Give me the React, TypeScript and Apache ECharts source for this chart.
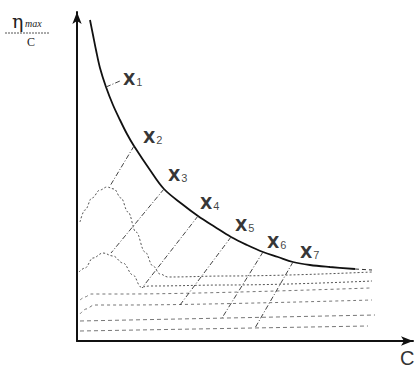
import React, { useEffect, useRef } from "react";
import * as echarts from "echarts";

// Envelope curve (eta_max / C versus C), axis units
const envelopeC = [1.3, 1.6, 1.9, 2.3, 2.9, 3.6, 4.3, 5.0, 5.7, 7.3, 8.7, 10.5, 12.1, 13.8, 15.4, 17.0, 18.6, 20.1, 21.6, 23.3, 25.3, 27.8];
const envelopeY = [32.1, 30.6, 29.1, 27.3, 25.4, 23.6, 22.1, 20.7, 19.5, 17.1, 15.2, 13.7, 12.5, 11.4, 10.4, 9.6, 8.9, 8.4, 7.9, 7.6, 7.4, 7.2];
const tailC = [27.8, 29.5];
const tailY = [7.2, 7.1];

// Marked points X1..X7 on the envelope
const pointNames = ["1", "2", "3", "4", "5", "6", "7"];
const pointC = [2.9, 5.7, 8.7, 12.1, 15.4, 18.6, 21.6];
const pointY = [25.4, 19.5, 15.2, 12.5, 10.4, 8.9, 7.9];
// Other end of the dashed line from each point
const dropC = [4.3, 3.3, 3.4, 6.5, 10.3, 14.5, 17.8];
const dropY = [26.0, 15.5, 8.8, 5.3, 3.6, 2.3, 1.3];

// Lower curves
const curveAC = [0.3, 0.8, 1.5, 2.3, 3.0, 3.7, 4.4, 5.1, 5.9, 6.8, 7.6, 8.3, 9.1, 15.0, 29.5];
const curveAY = [11.9, 13.1, 14.3, 15.1, 15.4, 15.2, 14.3, 12.9, 10.9, 8.9, 7.5, 6.7, 6.4, 6.5, 6.9];
const curveBC = [0.2, 0.8, 1.6, 2.6, 3.6, 4.6, 5.6, 6.4, 7.3, 15.0, 29.5];
const curveBY = [6.9, 7.3, 8.3, 8.8, 8.5, 7.8, 6.6, 5.4, 5.5, 5.6, 6.0];
const curve3C = [0.3, 0.8, 1.4, 5.0, 29.3];
const curve3Y = [4.1, 4.4, 4.7, 4.7, 5.3];
const curve4C = [0.3, 0.9, 1.7, 5.0, 29.5];
const curve4Y = [2.7, 3.2, 3.6, 3.6, 4.1];
const curve5C = [0.3, 29.8];
const curve5Y = [2.0, 2.6];
const curve6C = [0.3, 29.1];
const curve6Y = [1.0, 1.5];

const labelDx = [17, 9, 4, 2, 4, 4, 7];
const labelDy = [-8, -9, -14, -13, -12, -10, -10];

const zip = (xs: number[], ys: number[]) => xs.map((x, i) => [x, ys[i]]);

export default function App() {
  const ref = useRef<HTMLDivElement>(null);
  useEffect(() => {
    if (!ref.current) return;
    const chart = echarts.init(ref.current, undefined, { renderer: "svg" });
    const dotted = (data: number[][], smooth: number, color: string, dash: number[]) => ({
      type: "line",
      data,
      smooth,
      smoothMonotone: "x",
      symbol: "none",
      silent: true,
      lineStyle: { color, width: 1, type: dash },
    });
    const series: any[] = [
      {
        type: "line",
        data: zip(envelopeC, envelopeY),
        smooth: 0.35,
        symbol: "none",
        lineStyle: { color: "#111", width: 1.8 },
      },
      dotted(zip(tailC, tailY), 0, "#333", [4, 3]),
      dotted(zip(curveAC, curveAY), 0.4, "#555", [2, 2]),
      dotted(zip(curveBC, curveBY), 0.4, "#555", [2, 2]),
      dotted(zip(curve3C, curve3Y), 0.3, "#777", [3, 3]),
      dotted(zip(curve4C, curve4Y), 0.3, "#777", [3, 3]),
      dotted(zip(curve5C, curve5Y), 0, "#777", [4, 3]),
      dotted(zip(curve6C, curve6Y), 0, "#777", [4, 3]),
    ];
    pointC.forEach((c, i) => {
      series.push({
        type: "line",
        data: [[c, pointY[i]], [dropC[i], dropY[i]]],
        symbol: "none",
        silent: true,
        lineStyle: { color: "#444", width: 1, type: [5, 2, 1, 2] },
      });
    });
    series.push({
      type: "scatter",
      symbolSize: 0,
      data: pointNames.map((n, i) => ({
        value: [pointC[i], pointY[i]],
        label: {
          show: true,
          position: [labelDx[i], labelDy[i]],
          align: "left",
          verticalAlign: "middle",
          formatter: `{x|X}{s|${n}}`,
        },
      })),
      label: {
        rich: {
          x: { fontSize: 16, fontWeight: "bold", fontFamily: "DejaVu Sans", color: "#000" },
          s: { fontSize: 11, fontFamily: "Liberation Sans", color: "#111", padding: [5, 0, 0, 1] },
        },
      },
    });

    chart.setOption({
      animation: false,
      backgroundColor: "#fff",
      grid: { left: 77, top: 12, right: 4, bottom: 27 },
      xAxis: {
        type: "value",
        min: 0,
        max: 33.6,
        axisLine: { show: true, lineStyle: { color: "#111", width: 2 }, symbol: ["none", "arrow"], symbolSize: [7, 12] },
        axisTick: { show: false },
        axisLabel: { show: false },
        splitLine: { show: false },
      },
      yAxis: {
        type: "value",
        min: 0,
        max: 32.9,
        axisLine: { show: true, lineStyle: { color: "#111", width: 2 }, symbol: ["none", "arrow"], symbolSize: [7, 12] },
        axisTick: { show: false },
        axisLabel: { show: false },
        splitLine: { show: false },
      },
      graphic: [
        { type: "text", left: 12, top: 11, style: { text: "η", fontSize: 19, fontFamily: "DejaVu Serif", fill: "#222" } },
        { type: "text", left: 25, top: 18, style: { text: "max", fontSize: 10, fontStyle: "italic", fontFamily: "Liberation Serif", fill: "#222" } },
        { type: "line", shape: { x1: 5, y1: 33, x2: 50, y2: 33 }, style: { stroke: "#555", lineWidth: 1, lineDash: [2, 1] } },
        { type: "text", left: 27, top: 36, style: { text: "C", fontSize: 12, fontFamily: "Liberation Serif", fill: "#222" } },
        { type: "text", left: 400, top: 348, style: { text: "C", fontSize: 20, fontFamily: "Liberation Sans", fill: "#333" } },
      ],
      series,
    });
    return () => chart.dispose();
  }, []);
  return (
    <div
      ref={ref}
      style={{ position: "fixed", left: 0, top: 0, width: 417, height: 368, background: "#fff" }}
    />
  );
}
